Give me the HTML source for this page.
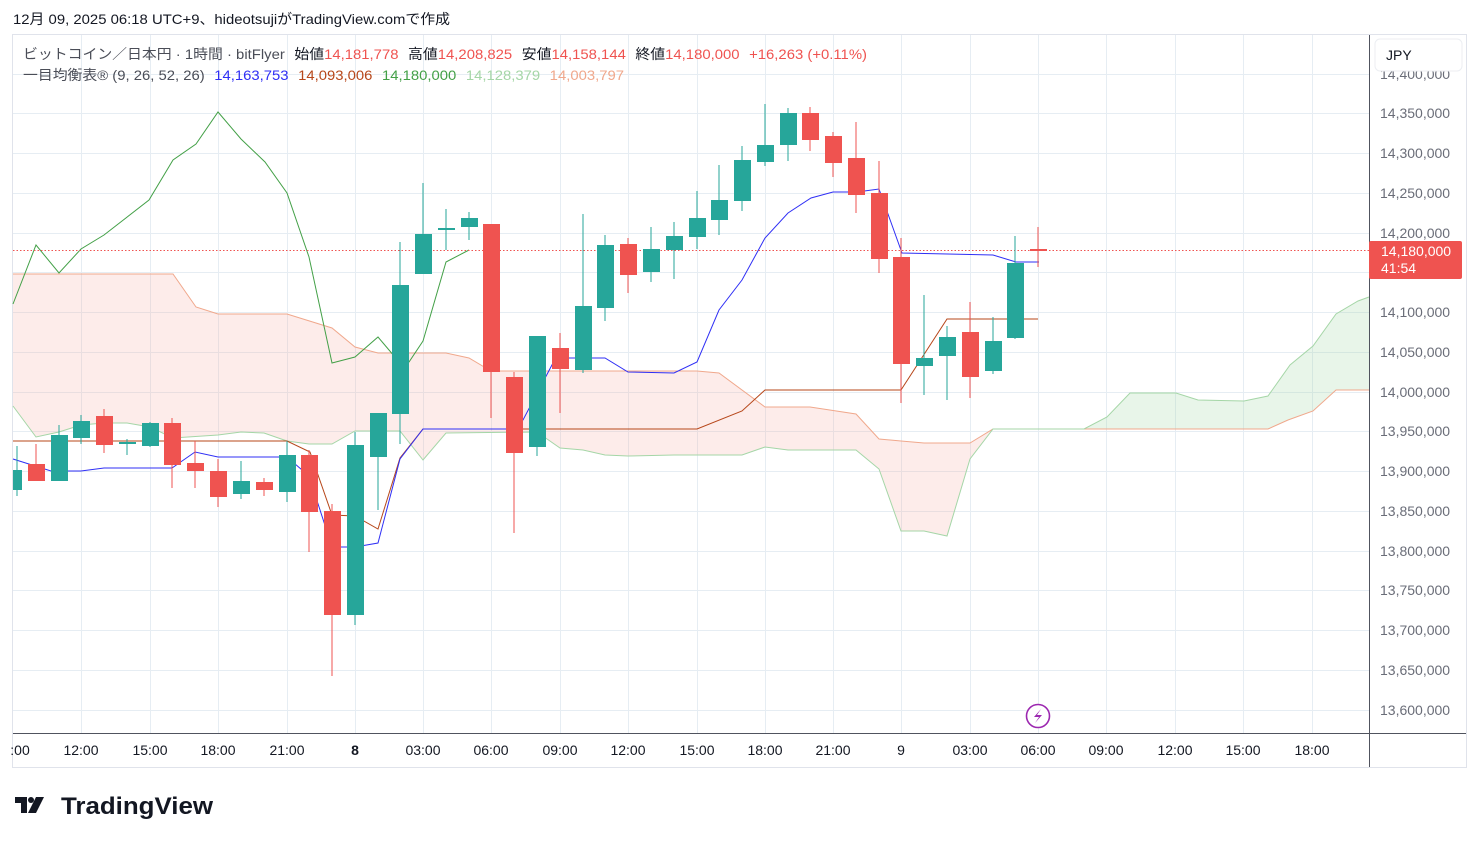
<!DOCTYPE html>
<html><head><meta charset="utf-8"><style>
body{margin:0;background:#fff;width:1479px;height:843px;overflow:hidden;font-family:"Liberation Sans","Noto Sans CJK JP",sans-serif}
</style></head><body>
<svg width="1479" height="843" xmlns="http://www.w3.org/2000/svg" font-family="Liberation Sans, Noto Sans CJK JP, sans-serif">
<text x="13" y="24" font-size="14" fill="#131722" textLength="437" lengthAdjust="spacingAndGlyphs">12月 09, 2025 06:18 UTC+9、hideotsujiがTradingView.comで作成</text>
<rect x="12.5" y="34.5" width="1454" height="733" fill="#fff" stroke="#e0e3eb"/>
<g stroke="#e6edf3" stroke-width="1">
<line x1="13" y1="74.5" x2="1369" y2="74.5"/><line x1="13" y1="113.5" x2="1369" y2="113.5"/><line x1="13" y1="153.5" x2="1369" y2="153.5"/><line x1="13" y1="193.5" x2="1369" y2="193.5"/><line x1="13" y1="233.5" x2="1369" y2="233.5"/><line x1="13" y1="272.5" x2="1369" y2="272.5"/><line x1="13" y1="312.5" x2="1369" y2="312.5"/><line x1="13" y1="352.5" x2="1369" y2="352.5"/><line x1="13" y1="392.5" x2="1369" y2="392.5"/><line x1="13" y1="431.5" x2="1369" y2="431.5"/><line x1="13" y1="471.5" x2="1369" y2="471.5"/><line x1="13" y1="511.5" x2="1369" y2="511.5"/><line x1="13" y1="551.5" x2="1369" y2="551.5"/><line x1="13" y1="590.5" x2="1369" y2="590.5"/><line x1="13" y1="630.5" x2="1369" y2="630.5"/><line x1="13" y1="670.5" x2="1369" y2="670.5"/><line x1="13" y1="710.5" x2="1369" y2="710.5"/>
<line x1="81.5" y1="35" x2="81.5" y2="733"/><line x1="150.5" y1="35" x2="150.5" y2="733"/><line x1="218.5" y1="35" x2="218.5" y2="733"/><line x1="287.5" y1="35" x2="287.5" y2="733"/><line x1="355.5" y1="35" x2="355.5" y2="733"/><line x1="423.5" y1="35" x2="423.5" y2="733"/><line x1="491.5" y1="35" x2="491.5" y2="733"/><line x1="560.5" y1="35" x2="560.5" y2="733"/><line x1="628.5" y1="35" x2="628.5" y2="733"/><line x1="697.5" y1="35" x2="697.5" y2="733"/><line x1="765.5" y1="35" x2="765.5" y2="733"/><line x1="833.5" y1="35" x2="833.5" y2="733"/><line x1="901.5" y1="35" x2="901.5" y2="733"/><line x1="970.5" y1="35" x2="970.5" y2="733"/><line x1="1038.5" y1="35" x2="1038.5" y2="733"/><line x1="1106.5" y1="35" x2="1106.5" y2="733"/><line x1="1175.5" y1="35" x2="1175.5" y2="733"/><line x1="1243.5" y1="35" x2="1243.5" y2="733"/><line x1="1312.5" y1="35" x2="1312.5" y2="733"/>
</g>
<polygon fill="#f7a9a0" fill-opacity="0.22" points="13,274 173,274 196,307 218,314 287,314 332,328 355,347 378,353 446,353 469,358 491,371 697,371 719,373 765,407 810,407 856,414 879,439 901,441 924,443 970,443 993,429 993,429 970,459 947,536 924,531 901,531 879,469 856,450 788,450 765,447 742,455 674,455 628,456 605,455 583,450 560,448 537,432 446,433 423,460 400,431 355,431 332,444 309,444 287,441 264,433 241,432 218,435 173,438 150,427 127,423 104,423 81,425 59,432 36,437 13,406"/>
<polygon fill="#a5d6a7" fill-opacity="0.25" points="1084,429 1107,417 1130,393 1176,393 1198,400 1244,401 1268,396 1290,365 1313,346 1336,314 1358,301 1369,297 1369,390 1336,390 1313,411 1288,420 1268,429"/>
<polyline fill="none" stroke="#f0a88c" stroke-width="1" points="13,274 173,274 196,307 218,314 287,314 332,328 355,347 378,353 446,353 469,358 491,371 697,371 719,373 765,407 810,407 856,414 879,439 901,441 924,443 970,443 993,429 1268,429 1288,420 1313,411 1336,390 1369,390"/>
<polyline fill="none" stroke="#a5d6a7" stroke-width="1" points="13,406 36,437 59,432 81,425 104,423 127,423 150,427 173,438 218,435 241,432 264,433 287,441 309,444 332,444 355,431 400,431 423,460 446,433 537,432 560,448 583,450 605,455 628,456 674,455 742,455 765,447 788,450 856,450 879,469 901,531 924,531 947,536 970,459 993,429 1084,429 1107,417 1130,393 1176,393 1198,400 1244,401 1268,396 1290,365 1313,346 1336,314 1358,301 1369,297"/>
<polyline fill="none" stroke="#43a047" stroke-width="1" points="13,304 36,245 59,273 81,249 104,235 149,200 173,160 196,144 218,112 241,139 265,162 287,193 309,257 332,363 355,357 378,337 400,363 409,362 423,341 446,262 469,250"/>
<polyline fill="none" stroke="#b7471a" stroke-width="1" points="13,441 287,441 310,452 332,515 355,516 378,529 400,458 423,429 697,429 742,411 765,390 901,390 947,319 1038,319"/>
<polyline fill="none" stroke="#2f2ff5" stroke-width="1" points="13,459 51,471 81,471 104,468 172,468 195,452 218,457 287,457 309,476 332,547 355,547 378,543 400,459 423,429 514,429 523,420 553,363 560,358 605,358 628,372 674,373 697,362 719,310 742,280 765,238 788,213 811,198 833,192 857,192 879,189 902,253 993,255 1016,262 1039,262"/>
<line x1="13" y1="250.5" x2="1369" y2="250.5" stroke="#ef5350" stroke-dasharray="1.5,2" stroke-width="1"/>
<g stroke-width="1">
<line x1="17" y1="446" x2="17" y2="496" stroke="#26a69a"/><rect x="13" y="470" width="9" height="20" fill="#26a69a"/>
<line x1="36" y1="444" x2="36" y2="481" stroke="#ef5350"/><rect x="28" y="464" width="17" height="17" fill="#ef5350"/>
<line x1="59" y1="425" x2="59" y2="481" stroke="#26a69a"/><rect x="51" y="435" width="17" height="46" fill="#26a69a"/>
<line x1="81" y1="415" x2="81" y2="444" stroke="#26a69a"/><rect x="73" y="421" width="17" height="17" fill="#26a69a"/>
<line x1="104" y1="409" x2="104" y2="453" stroke="#ef5350"/><rect x="96" y="416" width="17" height="29" fill="#ef5350"/>
<line x1="127" y1="439" x2="127" y2="455" stroke="#26a69a"/><rect x="119" y="442" width="17" height="2" fill="#26a69a"/>
<line x1="150" y1="422" x2="150" y2="447" stroke="#26a69a"/><rect x="142" y="423" width="17" height="23" fill="#26a69a"/>
<line x1="172" y1="418" x2="172" y2="488" stroke="#ef5350"/><rect x="164" y="423" width="17" height="42" fill="#ef5350"/>
<line x1="195" y1="441" x2="195" y2="488" stroke="#ef5350"/><rect x="187" y="463" width="17" height="8" fill="#ef5350"/>
<line x1="218" y1="459" x2="218" y2="507" stroke="#ef5350"/><rect x="210" y="471" width="17" height="26" fill="#ef5350"/>
<line x1="241" y1="461" x2="241" y2="499" stroke="#26a69a"/><rect x="233" y="481" width="17" height="13" fill="#26a69a"/>
<line x1="264" y1="478" x2="264" y2="496" stroke="#ef5350"/><rect x="256" y="482" width="17" height="8" fill="#ef5350"/>
<line x1="287" y1="441" x2="287" y2="502" stroke="#26a69a"/><rect x="279" y="455" width="17" height="37" fill="#26a69a"/>
<line x1="309" y1="450" x2="309" y2="552" stroke="#ef5350"/><rect x="301" y="455" width="17" height="57" fill="#ef5350"/>
<line x1="332" y1="504" x2="332" y2="676" stroke="#ef5350"/><rect x="324" y="511" width="17" height="104" fill="#ef5350"/>
<line x1="355" y1="432" x2="355" y2="625" stroke="#26a69a"/><rect x="347" y="445" width="17" height="170" fill="#26a69a"/>
<line x1="378" y1="413" x2="378" y2="510" stroke="#26a69a"/><rect x="370" y="413" width="17" height="44" fill="#26a69a"/>
<line x1="400" y1="242" x2="400" y2="444" stroke="#26a69a"/><rect x="392" y="285" width="17" height="129" fill="#26a69a"/>
<line x1="423" y1="183" x2="423" y2="274" stroke="#26a69a"/><rect x="415" y="234" width="17" height="40" fill="#26a69a"/>
<line x1="446" y1="209" x2="446" y2="250" stroke="#26a69a"/><rect x="438" y="228" width="17" height="2" fill="#26a69a"/>
<line x1="469" y1="212" x2="469" y2="240" stroke="#26a69a"/><rect x="461" y="218" width="17" height="9" fill="#26a69a"/>
<line x1="491" y1="224" x2="491" y2="418" stroke="#ef5350"/><rect x="483" y="224" width="17" height="148" fill="#ef5350"/>
<line x1="514" y1="372" x2="514" y2="533" stroke="#ef5350"/><rect x="506" y="377" width="17" height="76" fill="#ef5350"/>
<line x1="537" y1="336" x2="537" y2="456" stroke="#26a69a"/><rect x="529" y="336" width="17" height="111" fill="#26a69a"/>
<line x1="560" y1="333" x2="560" y2="413" stroke="#ef5350"/><rect x="552" y="348" width="17" height="21" fill="#ef5350"/>
<line x1="583" y1="214" x2="583" y2="373" stroke="#26a69a"/><rect x="575" y="306" width="17" height="64" fill="#26a69a"/>
<line x1="605" y1="235" x2="605" y2="321" stroke="#26a69a"/><rect x="597" y="245" width="17" height="63" fill="#26a69a"/>
<line x1="628" y1="238" x2="628" y2="293" stroke="#ef5350"/><rect x="620" y="244" width="17" height="31" fill="#ef5350"/>
<line x1="651" y1="227" x2="651" y2="282" stroke="#26a69a"/><rect x="643" y="249" width="17" height="23" fill="#26a69a"/>
<line x1="674" y1="222" x2="674" y2="279" stroke="#26a69a"/><rect x="666" y="236" width="17" height="14" fill="#26a69a"/>
<line x1="697" y1="191" x2="697" y2="249" stroke="#26a69a"/><rect x="689" y="218" width="17" height="19" fill="#26a69a"/>
<line x1="719" y1="165" x2="719" y2="235" stroke="#26a69a"/><rect x="711" y="200" width="17" height="20" fill="#26a69a"/>
<line x1="742" y1="146" x2="742" y2="211" stroke="#26a69a"/><rect x="734" y="160" width="17" height="41" fill="#26a69a"/>
<line x1="765" y1="104" x2="765" y2="166" stroke="#26a69a"/><rect x="757" y="145" width="17" height="17" fill="#26a69a"/>
<line x1="788" y1="108" x2="788" y2="161" stroke="#26a69a"/><rect x="780" y="113" width="17" height="32" fill="#26a69a"/>
<line x1="810" y1="107" x2="810" y2="151" stroke="#ef5350"/><rect x="802" y="113" width="17" height="27" fill="#ef5350"/>
<line x1="833" y1="132" x2="833" y2="177" stroke="#ef5350"/><rect x="825" y="136" width="17" height="27" fill="#ef5350"/>
<line x1="856" y1="122" x2="856" y2="213" stroke="#ef5350"/><rect x="848" y="158" width="17" height="37" fill="#ef5350"/>
<line x1="879" y1="161" x2="879" y2="273" stroke="#ef5350"/><rect x="871" y="193" width="17" height="66" fill="#ef5350"/>
<line x1="901" y1="238" x2="901" y2="403" stroke="#ef5350"/><rect x="893" y="257" width="17" height="107" fill="#ef5350"/>
<line x1="924" y1="295" x2="924" y2="395" stroke="#26a69a"/><rect x="916" y="358" width="17" height="8" fill="#26a69a"/>
<line x1="947" y1="326" x2="947" y2="400" stroke="#26a69a"/><rect x="939" y="337" width="17" height="19" fill="#26a69a"/>
<line x1="970" y1="302" x2="970" y2="398" stroke="#ef5350"/><rect x="962" y="332" width="17" height="45" fill="#ef5350"/>
<line x1="993" y1="317" x2="993" y2="374" stroke="#26a69a"/><rect x="985" y="341" width="17" height="30" fill="#26a69a"/>
<line x1="1015" y1="236" x2="1015" y2="339" stroke="#26a69a"/><rect x="1007" y="263" width="17" height="75" fill="#26a69a"/>
<line x1="1038" y1="227" x2="1038" y2="267" stroke="#ef5350"/><rect x="1030" y="249" width="17" height="2" fill="#ef5350"/>
</g>
<line x1="1369.5" y1="35" x2="1369.5" y2="767" stroke="#50535e"/>
<line x1="13" y1="733.5" x2="1466" y2="733.5" stroke="#50535e"/>
<g font-size="14" fill="#6a6d78" text-anchor="start">
<text x="1380" y="79">14,400,000</text>
<text x="1380" y="118">14,350,000</text><text x="1380" y="158">14,300,000</text><text x="1380" y="198">14,250,000</text><text x="1380" y="238">14,200,000</text><text x="1380" y="317">14,100,000</text><text x="1380" y="357">14,050,000</text><text x="1380" y="397">14,000,000</text><text x="1380" y="436">13,950,000</text><text x="1380" y="476">13,900,000</text><text x="1380" y="516">13,850,000</text><text x="1380" y="556">13,800,000</text><text x="1380" y="595">13,750,000</text><text x="1380" y="635">13,700,000</text><text x="1380" y="675">13,650,000</text><text x="1380" y="715">13,600,000</text>
</g>
<rect x="1375" y="39" width="87" height="32" rx="5" fill="#fff" stroke="#eceef2"/>
<text x="1386" y="60" font-size="14" fill="#131722">JPY</text>
<rect x="1369" y="241" width="93" height="38" rx="2" fill="#ef5350"/>
<text x="1381" y="256" font-size="14" fill="#fff">14,180,000</text>
<text x="1381" y="273" font-size="14" fill="#fff">41:54</text>
<g font-size="14" fill="#131722" text-anchor="middle">
<text x="20" y="755">:00</text><text x="81" y="755">12:00</text><text x="150" y="755">15:00</text><text x="218" y="755">18:00</text><text x="287" y="755">21:00</text><text x="355" y="755" font-weight="bold">8</text><text x="423" y="755">03:00</text><text x="491" y="755">06:00</text><text x="560" y="755">09:00</text><text x="628" y="755">12:00</text><text x="697" y="755">15:00</text><text x="765" y="755">18:00</text><text x="833" y="755">21:00</text><text x="901" y="755">9</text><text x="970" y="755">03:00</text><text x="1038" y="755">06:00</text><text x="1106" y="755">09:00</text><text x="1175" y="755">12:00</text><text x="1243" y="755">15:00</text><text x="1312" y="755">18:00</text>
</g>
<circle cx="1038" cy="716" r="11.5" fill="#fff" stroke="#9c27b0" stroke-width="1.6"/>
<path d="M1041,709 L1034,717 L1039,717 L1035,723 L1042,715 L1037,715 Z" fill="#9c27b0"/>
<text x="23" y="59" font-size="14" fill="#131722" textLength="844" lengthAdjust="spacingAndGlyphs"><tspan fill="#4a4d57">ビットコイン／日本円 · 1時間 · bitFlyer</tspan><tspan dx="9">始値</tspan><tspan fill="#ef5350">14,181,778</tspan><tspan dx="9">高値</tspan><tspan fill="#ef5350">14,208,825</tspan><tspan dx="9">安値</tspan><tspan fill="#ef5350">14,158,144</tspan><tspan dx="9">終値</tspan><tspan fill="#ef5350">14,180,000</tspan><tspan dx="9" fill="#ef5350">+16,263 (+0.11%)</tspan></text>
<text x="23" y="80" font-size="14" fill="#4a4d57" textLength="601" lengthAdjust="spacingAndGlyphs">一目均衡表® (9, 26, 52, 26)<tspan dx="9" fill="#2f2ff5">14,163,753</tspan><tspan dx="9" fill="#b7471a">14,093,006</tspan><tspan dx="9" fill="#43a047">14,180,000</tspan><tspan dx="9" fill="#a5d6a7">14,128,379</tspan><tspan dx="9" fill="#f0a88c">14,003,797</tspan></text>
<g fill="#131722">
<path d="M15,797 h12 v16 h-6 v-10 h-6 z"/><circle cx="31" cy="800" r="3"/><path d="M36,797 h8 l-8,16 h-8 z"/>
</g>
<text x="61" y="814" font-size="24" font-weight="bold" fill="#131722" textLength="152" lengthAdjust="spacingAndGlyphs">TradingView</text>
</svg>
</body></html>
